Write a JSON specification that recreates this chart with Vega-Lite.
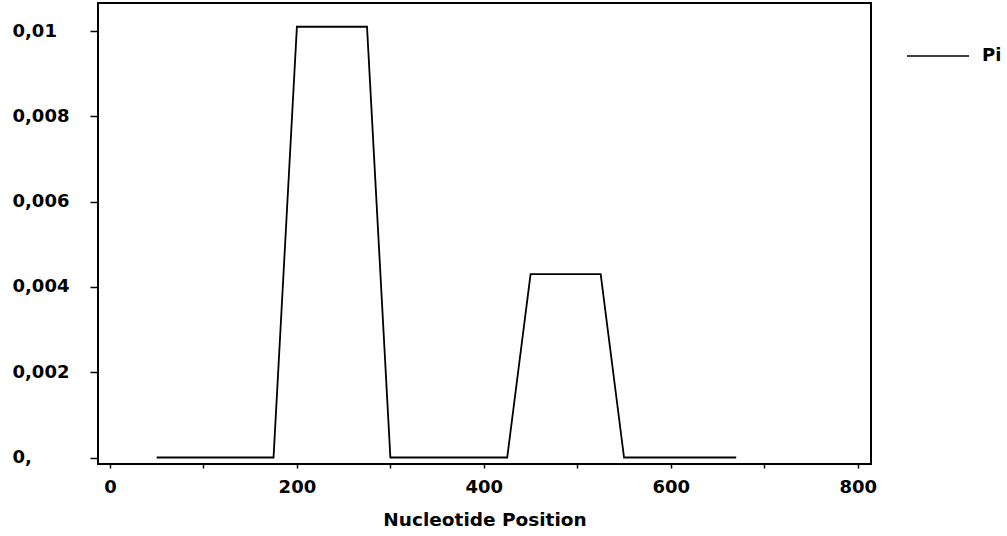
{
  "$schema": "https://vega.github.io/schema/vega-lite/v6.json",
  "width": 773,
  "height": 461,
  "autosize": {"type": "none"},
  "padding": {"left": 98, "top": 3, "right": 136, "bottom": 72},
  "background": "white",
  "config": {
    "view": {"stroke": "black", "strokeWidth": 2},
    "font": "DejaVu Sans"
  },
  "data": {
    "values": [
      {"position": 50, "pi": 0, "series": "Pi"},
      {"position": 75, "pi": 0, "series": "Pi"},
      {"position": 100, "pi": 0, "series": "Pi"},
      {"position": 125, "pi": 0, "series": "Pi"},
      {"position": 150, "pi": 0, "series": "Pi"},
      {"position": 175, "pi": 0, "series": "Pi"},
      {"position": 200, "pi": 0.0101, "series": "Pi"},
      {"position": 225, "pi": 0.0101, "series": "Pi"},
      {"position": 250, "pi": 0.0101, "series": "Pi"},
      {"position": 275, "pi": 0.0101, "series": "Pi"},
      {"position": 300, "pi": 0, "series": "Pi"},
      {"position": 325, "pi": 0, "series": "Pi"},
      {"position": 350, "pi": 0, "series": "Pi"},
      {"position": 375, "pi": 0, "series": "Pi"},
      {"position": 400, "pi": 0, "series": "Pi"},
      {"position": 425, "pi": 0, "series": "Pi"},
      {"position": 450, "pi": 0.0043, "series": "Pi"},
      {"position": 475, "pi": 0.0043, "series": "Pi"},
      {"position": 500, "pi": 0.0043, "series": "Pi"},
      {"position": 525, "pi": 0.0043, "series": "Pi"},
      {"position": 550, "pi": 0, "series": "Pi"},
      {"position": 575, "pi": 0, "series": "Pi"},
      {"position": 600, "pi": 0, "series": "Pi"},
      {"position": 625, "pi": 0, "series": "Pi"},
      {"position": 650, "pi": 0, "series": "Pi"},
      {"position": 670, "pi": 0, "series": "Pi"}
    ]
  },
  "mark": {"type": "line", "strokeWidth": 1.8},
  "encoding": {
    "x": {
      "field": "position",
      "type": "quantitative",
      "scale": {"domain": [-12.8, 814.2], "nice": false, "zero": false},
      "axis": {
        "values": [0, 100, 200, 300, 400, 500, 600, 700, 800],
        "labelExpr": "datum.value % 200 == 0 ? datum.label : ''",
        "grid": false,
        "domain": false,
        "tickColor": "black",
        "tickSize": 4,
        "tickWidth": 1.5,
        "labelFont": "DejaVu Sans",
        "labelFontWeight": "bold",
        "labelFontSize": 18,
        "labelColor": "black",
        "labelPadding": 10,
        "labelFlush": false,
        "labelOverlap": false,
        "title": "Nucleotide Position",
        "titleFont": "DejaVu Sans",
        "titleFontSize": 18.5,
        "titleFontWeight": "bold",
        "titleColor": "black",
        "titlePadding": 14
      }
    },
    "y": {
      "field": "pi",
      "type": "quantitative",
      "scale": {"domain": [-0.000152, 0.010657], "nice": false, "zero": false},
      "axis": {
        "values": [0, 0.002, 0.004, 0.006, 0.008, 0.01],
        "labelExpr": "datum.value == 0 ? '0,' : replace(format(datum.value, '.3~f'), '.', ',')",
        "grid": false,
        "domain": false,
        "tickColor": "black",
        "tickSize": 8,
        "tickWidth": 1.5,
        "labelAlign": "left",
        "labelBaseline": "middle",
        "labelPadding": 78,
        "labelFont": "DejaVu Sans",
        "labelFontWeight": "bold",
        "labelFontSize": 18,
        "labelColor": "black",
        "labelOverlap": false,
        "title": null
      }
    },
    "color": {
      "field": "series",
      "type": "nominal",
      "scale": {"range": ["black"]},
      "legend": {
        "orient": "none",
        "legendX": 808,
        "legendY": 21,
        "title": null,
        "padding": 0,
        "symbolType": "stroke",
        "symbolSize": 3844,
        "symbolStrokeWidth": 1.5,
        "symbolStrokeColor": "black",
        "labelFont": "DejaVu Sans",
        "labelFontSize": 18,
        "labelFontWeight": "bold",
        "labelColor": "black",
        "labelOffset": 12
      }
    }
  }
}
